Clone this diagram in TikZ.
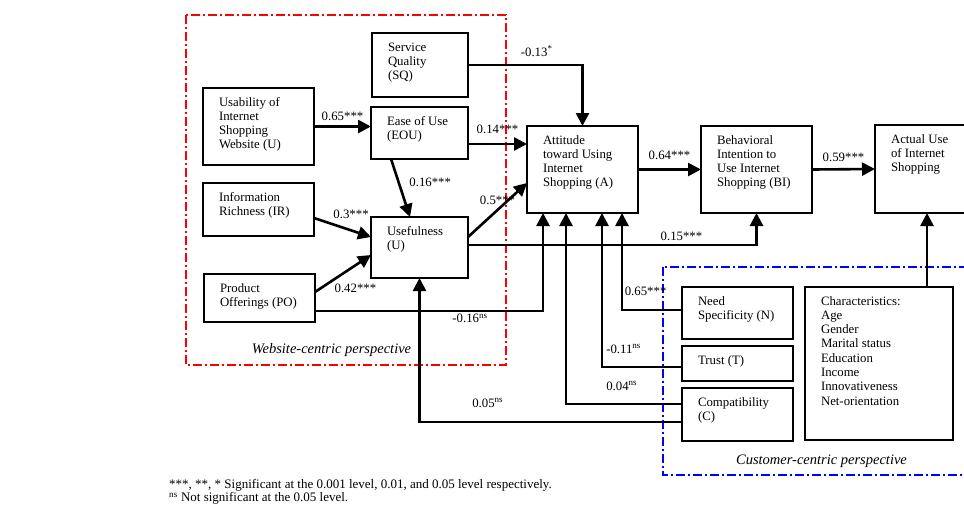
\documentclass[tikz,border=0pt]{standalone}
\usepackage{fontspec}
\setmainfont{Liberation Serif}
\usetikzlibrary{arrows.meta}
\newcommand{\boxtext}[3]{\parbox[c][#1][t]{#2}{\begin{tabular}[t]{@{}l@{}}#3\end{tabular}}}

\begin{document}
\begin{tikzpicture}[x=1pt,y=-1pt,
every node/.style={font=\fontsize{12.8}{14.3}\selectfont},
box/.style={draw,line width=1.3pt,anchor=north west,inner xsep=16pt,inner ysep=8pt,outer sep=0pt},
arr/.style={line width=2.6pt,-{Triangle[length=13pt,width=13pt]}},
persp/.style={line width=2pt,dash pattern=on 9pt off 3pt on 2pt off 3pt},
persptext/.style={font=\fontsize{14.5}{17}\selectfont\itshape},
lbl/.style={inner sep=1.5pt}]
\useasboundingbox (0,0) rectangle (964,507);
\clip (0,0) rectangle (964,507);

\draw[persp,red] (186,15) rectangle (506,365);
\draw[persp,blue] (663,267) rectangle (990,475);
\node[persptext] (webl) at (331.5,350) {Website-centric perspective};
\node[persptext] (cusl) at (821.5,461) {Customer-centric perspective};

\node[box] (sq) at (372,33) {\boxtext{48pt}{64pt}{Service\\Quality\\(SQ)}};
\node[box] (uweb) at (203,88) {\boxtext{61pt}{79pt}{Usability of\\Internet\\Shopping\\Website (U)}};
\node[box] (eou) at (371,107) {\boxtext{36pt}{65pt}{Ease of Use\\(EOU)}};
\node[box] (ir) at (203,183) {\boxtext{37pt}{79pt}{Information\\Richness (IR)}};
\node[box] (po) at (204,274) {\boxtext{32pt}{79pt}{Product\\Offerings (PO)}};
\node[box] (use) at (371,217) {\boxtext{45pt}{65pt}{Usefulness\\(U)}};
\node[box] (att) at (527,126) {\boxtext{71pt}{79pt}{Attitude\\toward Using\\Internet\\Shopping (A)}};
\node[box] (bi) at (701,126) {\boxtext{71pt}{79pt}{Behavioral\\Intention to\\Use Internet\\Shopping (BI)}};
\node[box] (act) at (875,125) {\boxtext{72pt}{79pt}{Actual Use\\of Internet\\Shopping}};
\node[box] (nsp) at (682,287) {\boxtext{36pt}{79pt}{Need\\Specificity (N)}};
\node[box] (tru) at (682,346) {\boxtext{19pt}{79pt}{Trust (T)}};
\node[box] (cmp) at (682,388) {\boxtext{37pt}{79pt}{Compatibility\\(C)}};
\node[box] (char) at (805,287) {\boxtext{137pt}{116pt}{Characteristics:\\Age\\Gender\\Marital status\\Education\\Income\\Innovativeness\\Net-orientation}};

\coordinate (e1) at ([yshift=-11pt]eou.east);
\coordinate (p1) at ([yshift=-13pt]po.east);
\coordinate (u1) at ([yshift=2.5pt]use.east);
\coordinate (c1) at ([xshift=48pt]char.north);
\coordinate (n1) at ([yshift=3pt]nsp.west);
\coordinate (t1) at ([yshift=-3.5pt]tru.west);
\coordinate (k1) at ([yshift=10.5pt]cmp.west);
\coordinate (k2) at ([yshift=-7.5pt]cmp.west);

\draw[arr] (uweb.east) -- (uweb.east -| eou.west) node[lbl,midway,above=3pt]{0.65***};
\draw[arr] (sq.east) -| node[lbl,pos=0.3,above=6pt]{-0.13\textsuperscript{*}} (att.north);
\draw[arr] (e1) -- (e1 -| att.west) node[lbl,midway,above=8pt]{0.14***};
\draw[arr] ([xshift=-28.5pt]eou.south) -- ([xshift=-9.5pt]use.north) node[lbl,pos=0.4,right=8pt]{0.16***};
\draw[arr] ([yshift=-8.5pt]ir.east) -- ([yshift=10.5pt]use.west) node[lbl,pos=0.65,above=9pt]{0.3***};
\draw[arr] ([yshift=6pt]po.east) -- ([yshift=-7.5pt]use.west) node[lbl,pos=0.3,below right]{0.42***};
\draw[arr] (p1) -| node[lbl,pos=0.34,below=0pt]{-0.16\textsuperscript{ns}} ([xshift=-39.5pt]att.south);
\draw[arr] ([yshift=10.5pt]use.east) -- ([yshift=-13.5pt]att.west) node[lbl,midway,above=3pt]{0.5***};
\draw[arr] (u1) -| node[lbl,pos=0.37,above=2pt]{0.15***} (bi.south);
\draw[arr] (att.east) -- (bi.west) node[lbl,midway,above=7pt]{0.64***};
\draw[arr] (bi.east) -- (act.west) node[lbl,midway,above=5pt]{0.59***};
\draw[arr] (c1) -- (c1 |- act.south);
\draw[arr] (n1) -| node[lbl,pos=0.5,anchor=south west,yshift=12pt]{0.65***} ([xshift=39.5pt]att.south);
\draw[arr] (t1) -| node[lbl,pos=0.5,anchor=south west,xshift=1.5pt,yshift=11pt]{-0.11\textsuperscript{ns}} ([xshift=19.5pt]att.south);
\draw[arr] (k1) -| node[lbl,pos=0.26,above=11pt]{0.04\textsuperscript{ns}} ([xshift=-16.5pt]att.south);
\draw[arr] (k2) -| node[lbl,pos=0.37,above=12pt]{0.05\textsuperscript{ns}} (use.south);

\node[anchor=north west,align=left,inner sep=0pt,font=\fontsize{13}{13}\selectfont] (note) at (169,479) {***, **, * Significant at the 0.001 level, 0.01, and 0.05 level respectively.\\\textsuperscript{ns} Not significant at the 0.05 level.};
\end{tikzpicture}
\end{document}
